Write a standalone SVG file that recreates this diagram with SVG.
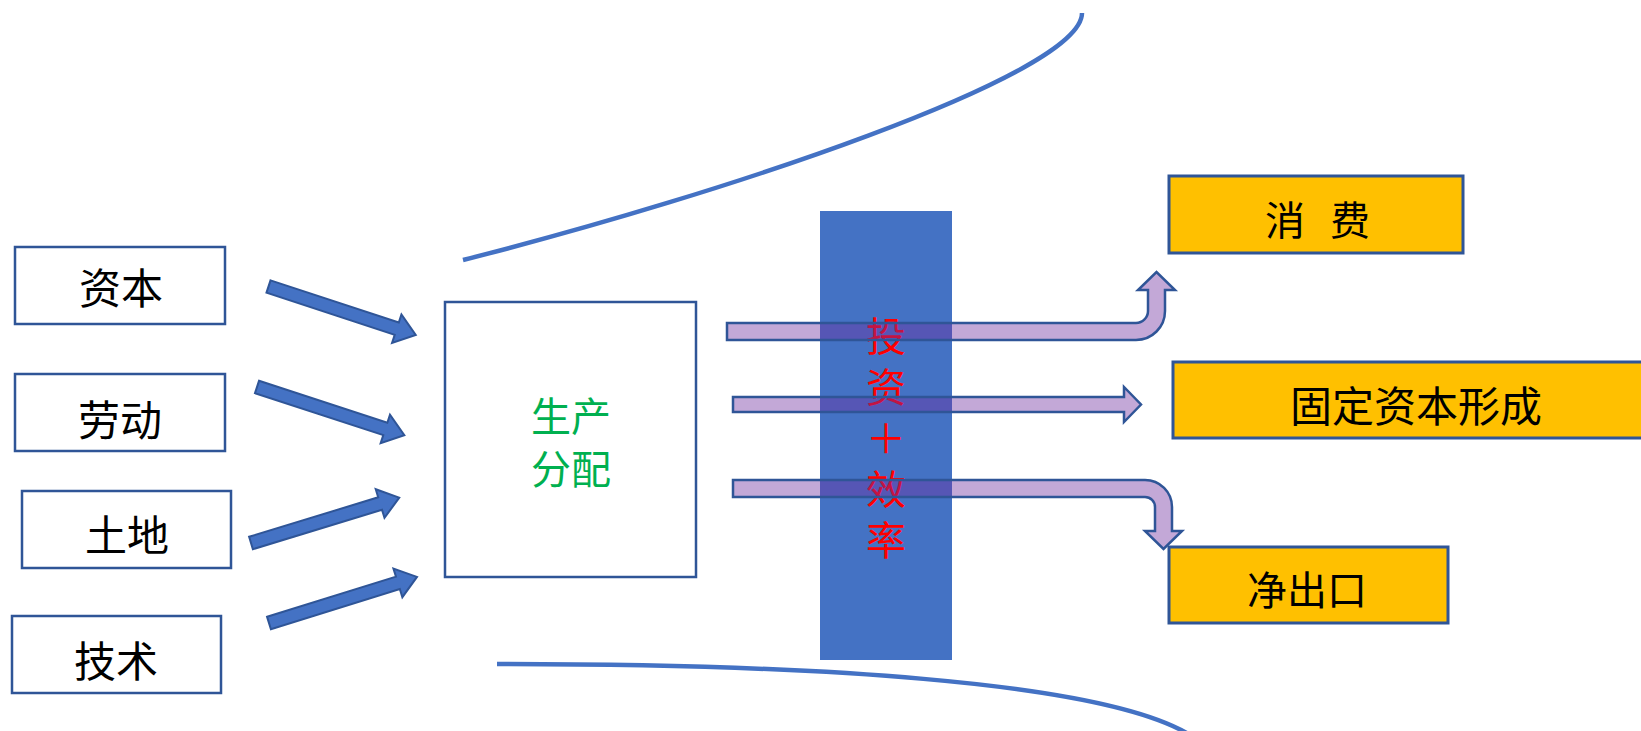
<svg xmlns="http://www.w3.org/2000/svg" xmlns:xlink="http://www.w3.org/1999/xlink" width="1641" height="731" viewBox="0 0 1641 731">
  <style>
    .box { fill: #FFFFFF; stroke: #2F5597; stroke-width: 2.5; }
    .out { fill: #FFC000; stroke: #2F5597; stroke-width: 3; }
    .lbl { font-family: "Noto Sans CJK SC", "Noto Sans", sans-serif; dominant-baseline: central; text-anchor: middle; }
    .blk { font-size: 42px; fill: #000000; }
    .grn { font-size: 40px; fill: #00B050; }
    .red { font-family: "Noto Sans CJK SC", "Noto Sans", sans-serif; font-size: 40px; fill: #FF0000; writing-mode: vertical-rl; text-orientation: upright; letter-spacing: 11px; }
    .curve { fill: none; stroke: #4472C4; stroke-width: 4.5; }
    .barrow { fill: #4472C4; stroke: #2F5597; stroke-width: 2; }
    .parrow { fill: #7030A0; fill-opacity: 0.42; stroke: #2F5597; stroke-width: 2.5; stroke-linejoin: miter; }
  </style>
  <defs>
    <!-- block arrow pointing along +x, 155 long -->
    <path id="blockArrow" d="M0,-6.5 L135,-6.5 L135,-15 L155,0 L135,15 L135,6.5 L0,6.5 Z"/>
  </defs>

  <!-- funnel outline -->
  <g id="funnel">
    <path class="curve" d="M463,260 C720,195 1082,75 1082,13"/>
    <path class="curve" d="M497,664 C800,664 1100,680 1190,735"/>
  </g>

  <!-- factor inputs -->
  <g id="capital">
    <rect class="box" x="15" y="247" width="210" height="77"/>
    <text class="lbl blk" x="121" y="285">资本</text>
  </g>
  <g id="labour">
    <rect class="box" x="15" y="374" width="210" height="77"/>
    <text class="lbl blk" x="120" y="417">劳动</text>
  </g>
  <g id="land">
    <rect class="box" x="22" y="491" width="209" height="77"/>
    <text class="lbl blk" x="127" y="532">土地</text>
  </g>
  <g id="technology">
    <rect class="box" x="12" y="616" width="209" height="77"/>
    <text class="lbl blk" x="116" y="658">技术</text>
  </g>

  <!-- production and distribution -->
  <g id="production">
    <rect class="box" x="445" y="302" width="251" height="275"/>
    <text class="lbl grn" x="571" y="414">生产</text>
    <text class="lbl grn" x="571" y="467">分配</text>
  </g>

  <!-- investment + efficiency band -->
  <g id="investment">
    <rect x="820" y="211" width="132" height="449" fill="#4472C4"/>
    <text class="red" x="886" y="316">投资＋效率</text>
  </g>

  <!-- final uses -->
  <g id="consumption">
    <rect class="out" x="1169" y="176" width="294" height="77"/>
    <text class="lbl blk" x="1265" y="218" style="text-anchor:start; word-spacing:16px; font-size:40px" xml:space="preserve">消 费</text>
  </g>
  <g id="capital-formation">
    <rect class="out" x="1173" y="362" width="480" height="76"/>
    <text class="lbl blk" x="1416" y="403">固定资本形成</text>
  </g>
  <g id="net-exports">
    <rect class="out" x="1169" y="547" width="279" height="76"/>
    <text class="lbl blk" x="1307" y="588" style="font-size:40px">净出口</text>
  </g>

  <!-- connectors -->
  <g id="connectors">
    <use xlink:href="#blockArrow" class="barrow" transform="translate(268.5,286.5) rotate(18.2)"/>
    <use xlink:href="#blockArrow" class="barrow" transform="translate(257,387) rotate(18.1)"/>
    <use xlink:href="#blockArrow" class="barrow" transform="translate(251,543) rotate(-17)"/>
    <use xlink:href="#blockArrow" class="barrow" transform="translate(269,623) rotate(-17.3)"/>
    <path class="parrow" d="M727,323 L1136,323 A12,12 0 0 0 1148,311 L1148,290 L1138,290 L1156.5,272 L1175,290 L1165,290 L1165,311 A29,29 0 0 1 1136,340 L727,340 Z"/>
    <path class="parrow" d="M733,397 L1124,397 L1124,387 L1141,404.5 L1124,422 L1124,412 L733,412 Z"/>
    <path class="parrow" d="M733,480 L1145,480 A27,27 0 0 1 1172,507 L1172,531 L1182,531 L1163.5,549 L1145,531 L1155,531 L1155,507 A10,10 0 0 0 1145,497 L733,497 Z"/>
  </g>
</svg>
